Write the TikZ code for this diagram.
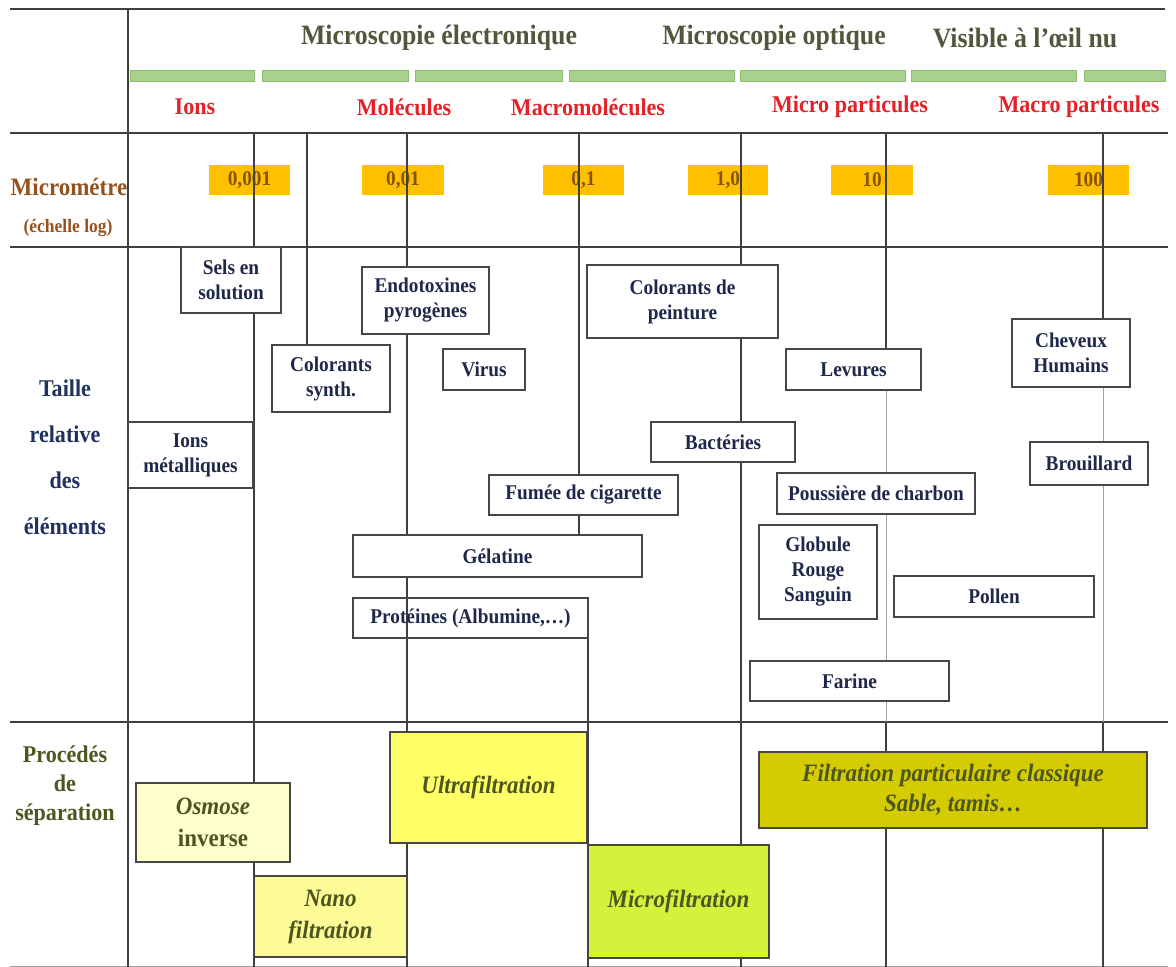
\documentclass[tikz,border=0pt]{standalone}
\usepackage{fontspec}
\setmainfont{Liberation Serif}[FakeStretch=0.92]

\definecolor{gridc}{RGB}{64,64,64}
\definecolor{boxc}{RGB}{70,70,70}
\definecolor{elemc}{RGB}{30,40,75}
\definecolor{headc}{RGB}{80,88,60}
\definecolor{redc}{RGB}{228,32,40}
\definecolor{brownc}{RGB}{150,82,30}
\definecolor{navyc}{RGB}{32,48,95}
\definecolor{procc}{RGB}{78,86,32}
\definecolor{barfill}{RGB}{169,209,142}
\definecolor{bardraw}{RGB}{140,190,110}
\definecolor{scalefill}{RGB}{255,192,0}
\definecolor{scalec}{RGB}{135,85,0}
\definecolor{osmfill}{RGB}{255,255,204}
\definecolor{nanofill}{RGB}{253,251,150}
\definecolor{ultrafill}{RGB}{255,255,102}
\definecolor{microfill}{RGB}{212,242,60}
\definecolor{filtfill}{RGB}{212,204,0}

\newcommand\elemfont{\fontsize{21}{25}\selectfont\bfseries}
\newcommand\procfont{\fontsize{25}{32}\selectfont\bfseries}

\begin{document}
\begin{tikzpicture}[x=1pt,y=-1pt,inner sep=0pt,outer sep=0pt,
gridline/.style={draw=gridc,line width=1.6pt},
lightline/.style={draw=gray!75,line width=1pt},
elem/.style={draw=boxc,line width=1.8pt,fill=white,align=center,text=elemc,font=\elemfont},
proc/.style={draw=boxc,line width=1.6pt,align=center,text=procc,font=\procfont},
scalebox/.style={fill=scalefill,minimum height=30,text=scalec,font=\fontsize{21}{23}\selectfont\bfseries},
headtext/.style={text=headc,font=\fontsize{28}{30}\selectfont\bfseries},
redtext/.style={text=redc,font=\fontsize{24}{26}\selectfont\bfseries}]

\useasboundingbox (0,0) rectangle (1176,967);

% en-tetes
\draw (439,38) node[headtext] (mse) {Microscopie électronique};
\draw (774,38) node[headtext] (mso) {Microscopie optique};
\draw (1025,38) node[headtext] (vis) {Visible à l’œil nu};

\foreach \xa/\xb in {130/254,262/408,415/562,569/734,740/905,911/1076,1084/1165}
  \draw[fill=barfill,draw=bardraw,line width=0.8pt] (\xa,70) rectangle (\xb,81);

\draw (195,107) node[redtext] (ions) {Ions};
\draw (404,107) node[redtext] (mol) {Molécules};
\draw (588,107) node[redtext] (macmol) {Macromolécules};
\draw (850,107) node[redtext] (micp) {Micro particules};
\draw (1079,107) node[redtext] (macp) {Macro particules};

% echelle
\draw (69,187) node[text=brownc,font=\fontsize{25}{27}\selectfont\bfseries] (um) {Micrométre};
\draw (68,228) node[text=brownc,font=\fontsize{19}{21}\selectfont\bfseries] (log) {(échelle log)};

\foreach \xa/\xb/\val in {209/290/{0,001},362/444/{0,01},543/624/{0,1},688/768/{1,0},831/913/10,1048/1129/100}
  \draw ({(\xa+\xb)/2},180) node[scalebox,minimum width={\xb-\xa}] {\val};

\draw (65,457) node[align=center,text=navyc,font=\fontsize{24}{46}\selectfont\bfseries] (taille) {Taille\\relative\\des\\éléments};
\draw (65,786) node[align=center,text=procc,font=\fontsize{24}{29}\selectfont\bfseries] (procedes) {Procédés\\de\\séparation};

% grille
\draw[gridline] (10,9) -- (1165,9);
\foreach \yy in {133,247,722}
  \draw[gridline] (10,\yy) -- (1168,\yy);
\draw[lightline] (10,966) -- (1168,966);
\draw[gridline] (128,9) -- (128,967);
\draw[gridline] (254,133) -- (254,967);
\draw[gridline] (307,133) -- (307,345);
\draw[gridline] (407,133) -- (407,967);
\draw[gridline] (579,133) -- (579,535);
\draw[gridline] (588,638) -- (588,967);
\draw[gridline] (741,133) -- (741,967);
\draw[gridline] (886,133) -- (886,370);
\draw[lightline] (886,370) -- (886,722);
\draw[gridline] (886,722) -- (886,967);
\draw[gridline] (1103,133) -- (1103,350);
\draw[lightline] (1103,350) -- (1103,722);
\draw[gridline] (1103,722) -- (1103,967);

% elements
\draw (231,280) node[elem,minimum width=100,minimum height=66] (sels) {Sels en\\solution};
\draw (190.5,455) node[elem,minimum width=125,minimum height=66] (ionsm) {Ions\\métalliques};
\draw (331,378.5) node[elem,minimum width=118,minimum height=67] (colsyn) {Colorants\\synth.};
\draw (425.5,300.5) node[elem,minimum width=127,minimum height=67] (endo) {Endotoxines\\pyrogènes};
\draw (484,369.5) node[elem,minimum width=82,minimum height=41] (virus) {Virus};
\draw (497.5,556) node[elem,minimum width=289,minimum height=42] (gelat) {Gélatine};
\draw (470.5,618) node[elem,fill=none,minimum width=235,minimum height=40] (prot) {Protéines (Albumine,…)};
\draw (583.5,495) node[elem,minimum width=189,minimum height=40] (fumee) {Fumée de cigarette};
\draw (682.5,301.5) node[elem,minimum width=191,minimum height=73] (colpeint) {Colorants de\\peinture};
\draw (723,442) node[elem,minimum width=144,minimum height=40] (bact) {Bactéries};
\draw (853.5,369.5) node[elem,minimum width=135,minimum height=41] (levures) {Levures};
\draw (876,493.5) node[elem,minimum width=198,minimum height=41] (pouss) {Poussière de charbon};
\draw (818,572) node[elem,minimum width=118,minimum height=94] (globule) {Globule\\Rouge\\Sanguin};
\draw (994,596.5) node[elem,minimum width=200,minimum height=41] (pollen) {Pollen};
\draw (849.5,681) node[elem,minimum width=199,minimum height=40] (farine) {Farine};
\draw (1071,353) node[elem,minimum width=118,minimum height=68] (cheveux) {Cheveux\\Humains};
\draw (1089,463.5) node[elem,minimum width=118,minimum height=43] (brouill) {Brouillard};

% procedes
\draw (213,822.5) node[proc,fill=osmfill,minimum width=154,minimum height=79] (osmose) {\textit{Osmose}\\inverse};
\draw (330.5,916.5) node[proc,fill=nanofill,minimum width=153,minimum height=81] (nano) {\textit{Nano}\\\textit{filtration}};
\draw (488.5,787.5) node[proc,fill=ultrafill,minimum width=197,minimum height=111] (ultra) {\textit{Ultrafiltration}};
\draw (678.5,901.5) node[proc,fill=microfill,minimum width=181,minimum height=113] (micro) {\textit{Microfiltration}};
\draw (953,790) node[proc,fill=filtfill,minimum width=388,minimum height=76,font=\fontsize{25}{30}\selectfont\bfseries] (filt) {\textit{Filtration particulaire classique}\\\textit{Sable, tamis…}};

\end{tikzpicture}
\end{document}
